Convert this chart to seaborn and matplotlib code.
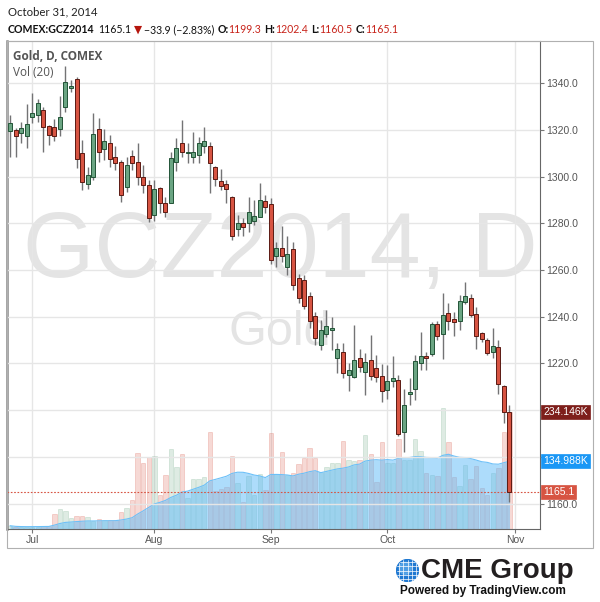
import matplotlib.pyplot as plt
import matplotlib.patches as mpatches
import numpy as np
import pandas as pd
import seaborn as sns

# Gold Dec-14 (COMEX:GCZ2014), daily bars 25 Jun - 31 Oct 2014
opens = [1319.7, 1320.0, 1318.6, 1317.4, 1325.4, 1326.4, 1328.6, 1321.7, 1321.1, 1320.3,
         1329.7, 1338.0, 1342.0, 1310.0, 1296.7, 1299.7, 1320.3, 1311.7, 1314.3, 1308.6,
         1306.4, 1295.7, 1308.9, 1306.4, 1300.0, 1296.4, 1283.6, 1295.0, 1288.6, 1288.6,
         1306.3, 1314.3, 1310.0, 1308.6, 1309.3, 1313.1, 1313.1, 1304.0, 1298.1, 1296.9,
         1291.4, 1277.4, 1280.3, 1280.3, 1281.0, 1282.9, 1289.7, 1288.3, 1266.0, 1269.3,
         1261.2, 1268.9, 1256.5, 1255.7, 1249.0, 1240.3, 1227.9, 1232.5, 1234.3, 1222.2,
         1225.0, 1215.0, 1214.0, 1222.5, 1216.5, 1221.5, 1218.2, 1214.6, 1208.6, 1212.6,
         1213.1, 1190.7, 1206.9, 1208.9, 1220.0, 1223.3, 1224.0, 1236.9, 1232.6, 1241.5,
         1238.9, 1238.3, 1246.2, 1248.2, 1241.2, 1232.9, 1230.0, 1224.9, 1226.9, 1210.3,
         1199.3]
highs = [1326.4, 1320.7, 1323.4, 1331.0, 1335.7, 1333.1, 1330.0, 1322.1, 1324.6, 1334.6,
         1347.4, 1341.4, 1342.6, 1315.7, 1304.3, 1327.1, 1325.0, 1320.3, 1317.9, 1313.1,
         1307.1, 1308.6, 1311.4, 1314.6, 1305.0, 1298.6, 1298.6, 1295.7, 1291.4, 1310.7,
         1316.4, 1324.3, 1314.3, 1319.0, 1316.9, 1321.4, 1315.0, 1304.6, 1303.1, 1298.6,
         1291.7, 1283.6, 1282.1, 1291.4, 1290.0, 1297.1, 1292.2, 1290.7, 1272.2, 1278.9,
         1274.6, 1272.2, 1258.3, 1257.9, 1250.7, 1242.2, 1238.6, 1242.9, 1239.7, 1228.6,
         1228.6, 1220.0, 1236.5, 1226.0, 1224.3, 1232.2, 1223.6, 1219.7, 1219.3, 1223.1,
         1215.0, 1208.9, 1213.6, 1223.6, 1233.6, 1225.0, 1237.9, 1238.2, 1250.0, 1245.7,
         1242.2, 1249.3, 1255.0, 1249.6, 1244.0, 1233.6, 1230.7, 1235.0, 1230.0, 1210.7,
         1202.4]
lows = [1308.3, 1308.3, 1314.3, 1312.1, 1322.9, 1323.6, 1310.7, 1313.6, 1315.4, 1317.4,
        1327.9, 1336.4, 1303.6, 1294.3, 1294.6, 1298.6, 1306.4, 1307.1, 1304.3, 1302.9,
        1289.3, 1293.6, 1302.9, 1296.4, 1293.1, 1280.7, 1281.1, 1284.3, 1282.9, 1288.6,
        1302.6, 1308.3, 1306.0, 1306.0, 1305.7, 1310.0, 1292.9, 1296.0, 1294.3, 1288.6,
        1272.9, 1274.6, 1274.6, 1276.4, 1279.3, 1282.6, 1284.3, 1262.6, 1261.2, 1263.6,
        1257.9, 1251.5, 1245.7, 1243.2, 1235.0, 1227.9, 1225.7, 1231.5, 1225.7, 1215.7,
        1213.6, 1208.3, 1213.6, 1216.5, 1206.5, 1212.9, 1212.2, 1203.6, 1204.6, 1210.0,
        1189.0, 1182.1, 1202.1, 1204.3, 1217.2, 1217.2, 1223.0, 1230.0, 1221.7, 1234.3,
        1231.7, 1234.3, 1245.3, 1240.0, 1226.0, 1229.3, 1223.6, 1222.2, 1207.1, 1194.6,
        1160.5]
closes = [1323.1, 1317.4, 1320.7, 1322.6, 1327.1, 1331.7, 1321.4, 1317.7, 1317.4, 1325.4,
          1340.4, 1338.9, 1307.4, 1297.9, 1300.7, 1318.3, 1310.7, 1315.3, 1307.4, 1306.0,
          1292.1, 1304.9, 1305.7, 1300.0, 1296.4, 1282.1, 1294.6, 1288.6, 1285.0, 1307.9,
          1312.1, 1310.7, 1310.4, 1310.4, 1314.3, 1315.4, 1306.0, 1298.9, 1296.0, 1294.9,
          1274.6, 1280.0, 1278.3, 1284.7, 1283.0, 1290.0, 1287.2, 1264.3, 1269.6, 1266.0,
          1266.9, 1253.6, 1247.9, 1244.6, 1238.3, 1230.7, 1234.3, 1236.0, 1235.3, 1226.0,
          1215.7, 1217.2, 1221.5, 1218.6, 1220.7, 1214.6, 1214.3, 1208.3, 1212.6, 1213.9,
          1190.0, 1202.1, 1207.9, 1221.0, 1223.3, 1222.4, 1236.9, 1231.7, 1240.7, 1238.3,
          1237.9, 1246.7, 1249.0, 1240.7, 1231.7, 1230.3, 1224.6, 1227.5, 1211.2, 1199.0,
          1165.1]
volumes_k = [5.6, 3.0, 3.0, 3.3, 4.0, 4.0, 5.0, 5.0, 28.5, 39.0,
             34.5, 21.0, 24.4, 24.4, 22.4, 15.0, 19.7, 17.7, 17.0, 18.0,
             32.5, 41.0, 56.5, 151.0, 130.7, 143.0, 145.0, 67.0, 106.6, 160.0,
             123.0, 149.0, 60.5, 99.0, 99.0, 102.6, 193.0, 75.0, 79.0, 82.6,
             144.7, 90.6, 52.5, 105.0, 67.0, 109.0, 77.0, 191.0, 109.0, 153.0,
             107.0, 112.0, 129.0, 141.0, 161.0, 141.0, 114.0, 123.0, 132.0, 132.0,
             175.0, 137.0, 136.0, 137.0, 187.0, 149.0, 93.0, 174.0, 131.0, 131.0,
             179.0, 137.0, 137.0, 179.0, 156.0, 111.0, 107.0, 106.0, 241.0, 174.0,
             104.0, 85.0, 127.0, 99.0, 125.0, 82.0, 67.0, 111.0, 121.0, 194.0,
             234.146]
month_labels = ['Jul', 'Aug', 'Sep', 'Oct', 'Nov']
holidays = ['2014-07-04', '2014-09-01']
last_vol_ma = 134.988

dates = pd.bdate_range('2014-06-25', '2014-10-31')
dates = dates[~dates.isin(pd.to_datetime(holidays))]
df = pd.DataFrame({'Date': dates, 'Open': opens, 'High': highs, 'Low': lows,
                   'Close': closes, 'Vol': volumes_k})
df['i'] = np.arange(len(df))
df['Dir'] = np.where(df['Close'] >= df['Open'], 'up', 'down')
df['VolMA'] = df['Vol'].rolling(20, min_periods=1).mean()

# first session of each month, plus the session after the last bar (3 Nov)
month_pos = list(df.groupby(df['Date'].dt.to_period('M'))['i'].min().iloc[1:]) + [len(df)]

up_col, down_col = '#6ba583', '#d75442'
up_edge, down_edge = '#225437', '#5b1a13'
grey = '#555555'

sns.set_style('white')
plt.rcParams['font.family'] = ['Liberation Sans', 'DejaVu Sans']

W, H = 600, 602
fig = plt.figure(figsize=(6, 6.02), dpi=100)


def fx(px):
    return px / W


def fy(py):
    return 1 - py / H


# volume panel (bottom layer) and price panel on top of it
axv = fig.add_axes([fx(7), fy(529), fx(540) - fx(7), fy(41) - fy(529)])
ax = axv.twinx()
ax.set_zorder(axv.get_zorder() + 1)
ax.patch.set_visible(False)

# watermark
axv.text(0.512, 0.566, 'GCZ2014, D', transform=axv.transAxes, ha='center', va='center',
         fontsize=66, color='#e4e4e4', zorder=0)
axv.text(0.512, 0.402, 'Gold', transform=axv.transAxes, ha='center', va='center',
         fontsize=35, color='#e4e4e4', zorder=0)

sns.barplot(data=df, x='i', y='Vol', hue='Dir', palette={'up': up_col, 'down': down_col},
            native_scale=True, dodge=False, width=0.8, errorbar=None, legend=False,
            saturation=1, alpha=0.22, ax=axv)
for p in axv.patches:
    r, g, b, _ = p.get_facecolor()
    p.set_edgecolor((r, g, b, 0.4))
    p.set_linewidth(0.7)
axv.fill_between(df['i'], df['VolMA'], color='#5cbaf8', alpha=0.5, lw=0)
sns.lineplot(x=df['i'], y=df['VolMA'], color='#6cc0f8', lw=0.8, ax=axv)

axv.set_xlim(-0.54, 95.5)
axv.set_ylim(-1, 977.5)
axv.set_yticks([])
axv.set_xticks(month_pos, month_labels)
axv.set_xlabel('')
axv.set_ylabel('')
axv.tick_params(axis='x', colors='#777777', labelcolor=grey, labelsize=7.5,
                length=3, width=0.8, pad=1.5, bottom=True)
axv.grid(axis='x', color='#e6e6e6', lw=1)
axv.set_axisbelow(True)
axv.spines['left'].set_color('#8a8a8a')
axv.spines['left'].set_linewidth(1.8)
axv.spines['bottom'].set_color('#666666')
axv.spines['bottom'].set_linewidth(0.8)
axv.spines['right'].set_color('#666666')
axv.spines['right'].set_linewidth(0.8)
axv.spines['top'].set_color('#c0c0c0')
axv.spines['top'].set_linewidth(0.8)

# candles
ax.vlines(df['i'], df['Low'], df['High'], color='#737375', lw=1, zorder=3)
body_low = np.minimum(df['Open'], df['Close'])
body_h = (df['Close'] - df['Open']).abs().clip(lower=0.5)
ax.bar(df['i'], body_h, bottom=body_low, width=0.72,
       color=np.where(df['Dir'] == 'up', up_col, down_col),
       edgecolor=np.where(df['Dir'] == 'up', up_edge, down_edge), lw=0.7, zorder=4)

ax.axhline(closes[-1], color=down_col, lw=0.8, ls=(0, (1.5, 1.5)), zorder=2)
ax.set_ylim(1149.1, 1358.1)
price_ticks = np.arange(1160, 1341, 20)
# 1180 and 1200 sit under the volume badges, so they carry no label
price_labels = ['' if v in (1180, 1200) else f'{v:.1f}' for v in price_ticks]
ax.set_yticks(price_ticks, price_labels)
ax.tick_params(axis='y', colors='#777777', labelcolor=grey, labelsize=7.5,
               length=3, width=0.8, pad=1.5)
ax.grid(axis='y', color='#e6e6e6', lw=1)
ax.set_axisbelow(True)
for s in ax.spines.values():
    s.set_visible(False)

# last-value badges on the right scale
badges = [(volumes_k[-1], f'{volumes_k[-1]:.3f}K', '#7e1f1b', axv),
          (last_vol_ma, f'{last_vol_ma:.3f}K', '#1a97f5', axv),
          (closes[-1], f'{closes[-1]:.1f}', down_col, ax)]
for val, label, bg, src in badges:
    ax.annotate(label, xy=(1, val), xycoords=src.get_yaxis_transform(),
                xytext=(2.2, 0), textcoords='offset points', ha='left', va='center',
                fontsize=7.5, color='white', annotation_clip=False, zorder=10,
                bbox=dict(boxstyle='square,pad=0.2', fc=bg, ec=bg, lw=0.5))

# legend texts in the panel
fig.text(fx(13), fy(57), 'Gold, D, COMEX', fontsize=8.5, weight='bold', color=grey,
         va='center', family=['Open Sans', 'DejaVu Sans'])
fig.text(fx(13), fy(72), 'Vol (20)', fontsize=8.5, color=grey, va='center',
         family=['Open Sans', 'DejaVu Sans'])

# outer frame
fig.patches.append(mpatches.Rectangle((fx(7), fy(548)), fx(593) - fx(7), fy(41) - fy(548),
                                      transform=fig.transFigure, fill=False,
                                      ec='#b0b0b0', lw=0.8))

# header
hdr_font = ['Lato', 'DejaVu Sans']
fig.text(fx(8), fy(12), 'October 31, 2014', fontsize=8.2, color='#222222', va='center',
         family=hdr_font)
red_txt = '#c8231a'
pieces = [('COMEX:GCZ2014', 'bold', '#111111', 0),
          ('1165.1', 'normal', '#111111', 4),
          ('\u25bc', 'normal', '#b5150d', 2),
          ('\u221233.9 (\u22122.83%)', 'normal', '#111111', 2),
          ('O:', 'bold', '#111111', 3), ('1199.3', 'normal', red_txt, 0),
          ('H:', 'bold', '#111111', 3), ('1202.4', 'normal', red_txt, 0),
          ('L:', 'bold', '#111111', 3), ('1160.5', 'normal', red_txt, 0),
          ('C:', 'bold', '#111111', 3), ('1165.1', 'normal', red_txt, 0)]
prev = None
for txt, wt, col, gap in pieces:
    if prev is None:
        prev = fig.text(fx(8), fy(35), txt, fontsize=7.6, weight=wt, color=col,
                        va='bottom', family=hdr_font)
    else:
        prev = axv.annotate(txt, xy=(1, 0), xycoords=prev, xytext=(gap * 0.72, 0),
                            textcoords='offset points', va='bottom', fontsize=7.6,
                            weight=wt, color=col, family=hdr_font, annotation_clip=False)

# footer logo
gax = fig.add_axes([fx(396), fy(582), 23 / W, 23 / H])
gax.set_xlim(-1.05, 1.05)
gax.set_ylim(-1.05, 1.05)
gax.set_aspect('equal')
gax.axis('off')
gax.add_patch(mpatches.Circle((0, 0), 1, color='#1f78d1'))
gax.add_patch(mpatches.Circle((-0.2, 0.2), 0.55, color='#6fb7f0', alpha=0.6))
for k in np.linspace(-0.75, 0.75, 5):
    w = np.sqrt(1 - k ** 2)
    gax.plot([-w, w], [k, k], color='white', lw=0.5)
    gax.plot([k, k], [-w, w], color='white', lw=0.5)
fig.text(fx(421), fy(571), 'CME Group', fontsize=20, weight='bold', color='#231f20',
         va='center')
fig.text(fx(400), fy(591), 'Powered by TradingView.com', fontsize=8.5, weight='bold',
         color='#111111', va='center')

fig.savefig('out.png', dpi=100)
